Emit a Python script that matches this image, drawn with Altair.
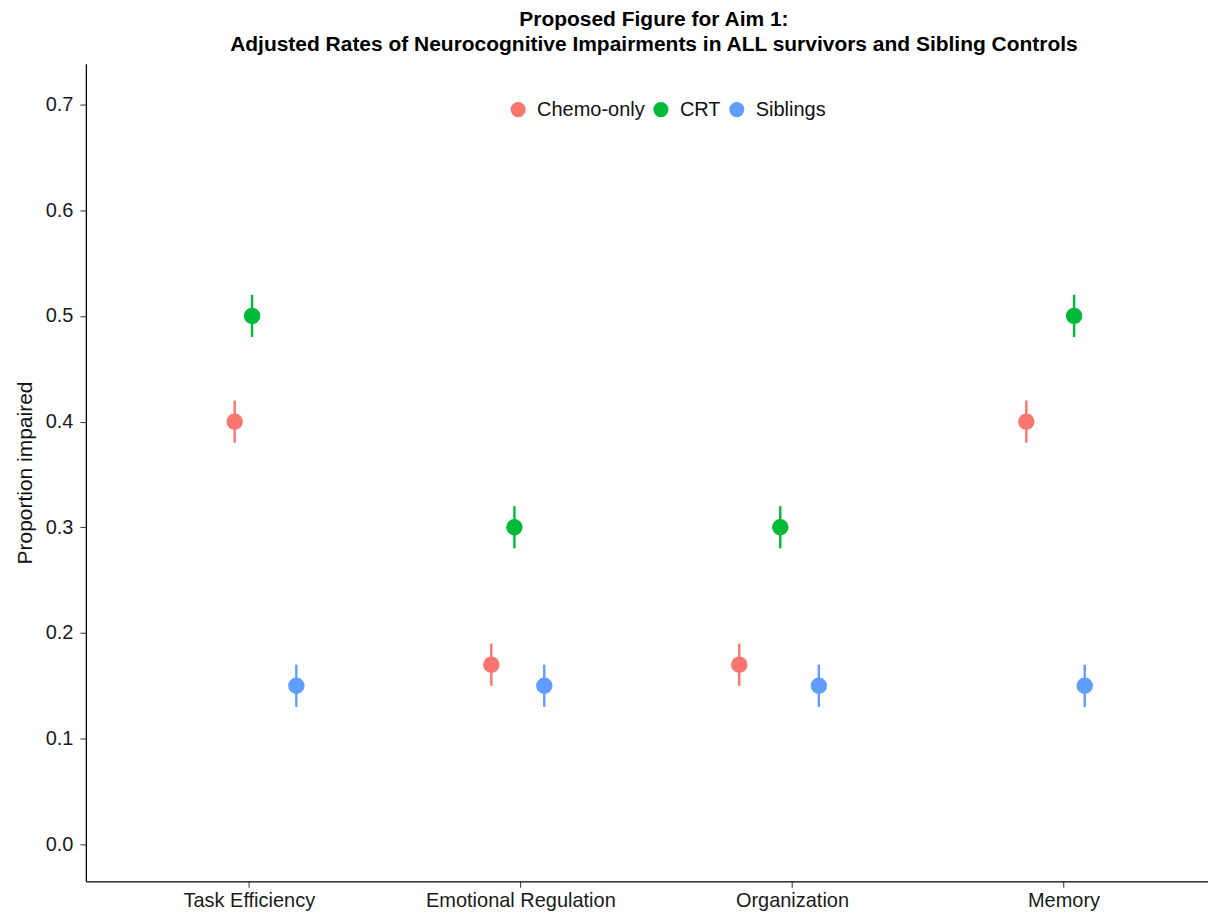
import altair as alt
import pandas as pd

categories = ["Task Efficiency", "Emotional Regulation", "Organization", "Memory"]
groups = ["Chemo-only", "CRT", "Siblings"]
colors = ["#F8766D", "#00BA38", "#619CFF"]

# proportion impaired per group, one value per category
chemo_vals = [0.40, 0.17, 0.17, 0.40]
crt_vals = [0.50, 0.30, 0.30, 0.50]
sib_vals = [0.15, 0.15, 0.15, 0.15]
# error half-width
err = [0.02, 0.02, 0.02, 0.02]
# horizontal jitter (in category units)
chemo_jit = [-0.052, -0.107, -0.194, -0.137]
crt_jit = [0.012, -0.022, -0.043, 0.039]
sib_jit = [0.175, 0.088, 0.099, 0.078]

rows = []
for g, vals, jit in [("Chemo-only", chemo_vals, chemo_jit),
                     ("CRT", crt_vals, crt_jit),
                     ("Siblings", sib_vals, sib_jit)]:
    for i, c in enumerate(categories):
        rows.append({
            "category": c,
            "group": g,
            "xpos": i + 1 + jit[i],
            "value": vals[i],
            "lo": vals[i] - err[i],
            "hi": vals[i] + err[i],
        })
df = pd.DataFrame(rows)

label_expr = ("datum.value == 1 ? 'Task Efficiency' : datum.value == 2 ? 'Emotional Regulation' : "
              "datum.value == 3 ? 'Organization' : datum.value == 4 ? 'Memory' : ''")

FONT = "Liberation Sans"

x = alt.X("xpos:Q",
          scale=alt.Scale(domain=[0.4, 4.532], nice=False, zero=False),
          axis=alt.Axis(values=[1, 2, 3, 4], labelExpr=label_expr, title=None,
                        grid=False, domain=True, domainColor="#000000", domainWidth=1.3,
                        ticks=True, tickColor="#333333", tickSize=6, labelPadding=3,
                        labelLimit=0, labelFont=FONT, labelFontSize=20, labelColor="#1a1a1a"))
y_scale = alt.Scale(domain=[-0.035, 0.7387], nice=False, zero=False)
color = alt.Color("group:N", scale=alt.Scale(domain=groups, range=colors),
                  legend=alt.Legend(title=None, orient="none", direction="horizontal",
                                    legendX=423, legendY=36, symbolType="circle",
                                    symbolSize=230, symbolStrokeWidth=0, labelFont=FONT,
                                    labelFontSize=20, labelColor="#111111", labelOffset=9,
                                    columnPadding=6, padding=0))

rules = alt.Chart(df).mark_rule(strokeWidth=2.4).encode(
    x=x,
    y=alt.Y("lo:Q", scale=y_scale),
    y2="hi:Q",
    color=color,
)
points = alt.Chart(df).mark_point(filled=True, shape="circle", size=270, opacity=1).encode(
    x=x,
    y=alt.Y("value:Q", scale=y_scale,
            axis=alt.Axis(values=[0, 0.1, 0.2, 0.3, 0.4, 0.5, 0.6, 0.7], format=".1f",
                          title="Proportion impaired", titleFont=FONT,
                          titleFontSize=21, titleFontWeight="normal", titleColor="#111111",
                          titlePadding=10, grid=False, domainColor="#000000", domainWidth=1.3,
                          tickColor="#333333", tickSize=6, labelPadding=7,
                          labelFont=FONT, labelFontSize=20, labelColor="#1a1a1a")),
    color=color,
)

chart = (rules + points).properties(
    width=1124,
    height=819,
    autosize=alt.AutoSizeParams(type="none"),
    padding={"left": 78, "top": 55, "right": 0, "bottom": 37},
    title=alt.TitleParams(
        text=["Proposed Figure for Aim 1:",
              "Adjusted Rates of Neurocognitive Impairments in ALL survivors and Sibling Controls"],
        font=FONT, fontSize=21, fontWeight="bold", color="#000000",
        anchor="middle", lineHeight=25, offset=9, dx=7,
    ),
).configure_view(stroke=None).configure_axis(domainColor="#000000")

chart.save("out.html", embed_options={"renderer": "svg", "actions": False})
